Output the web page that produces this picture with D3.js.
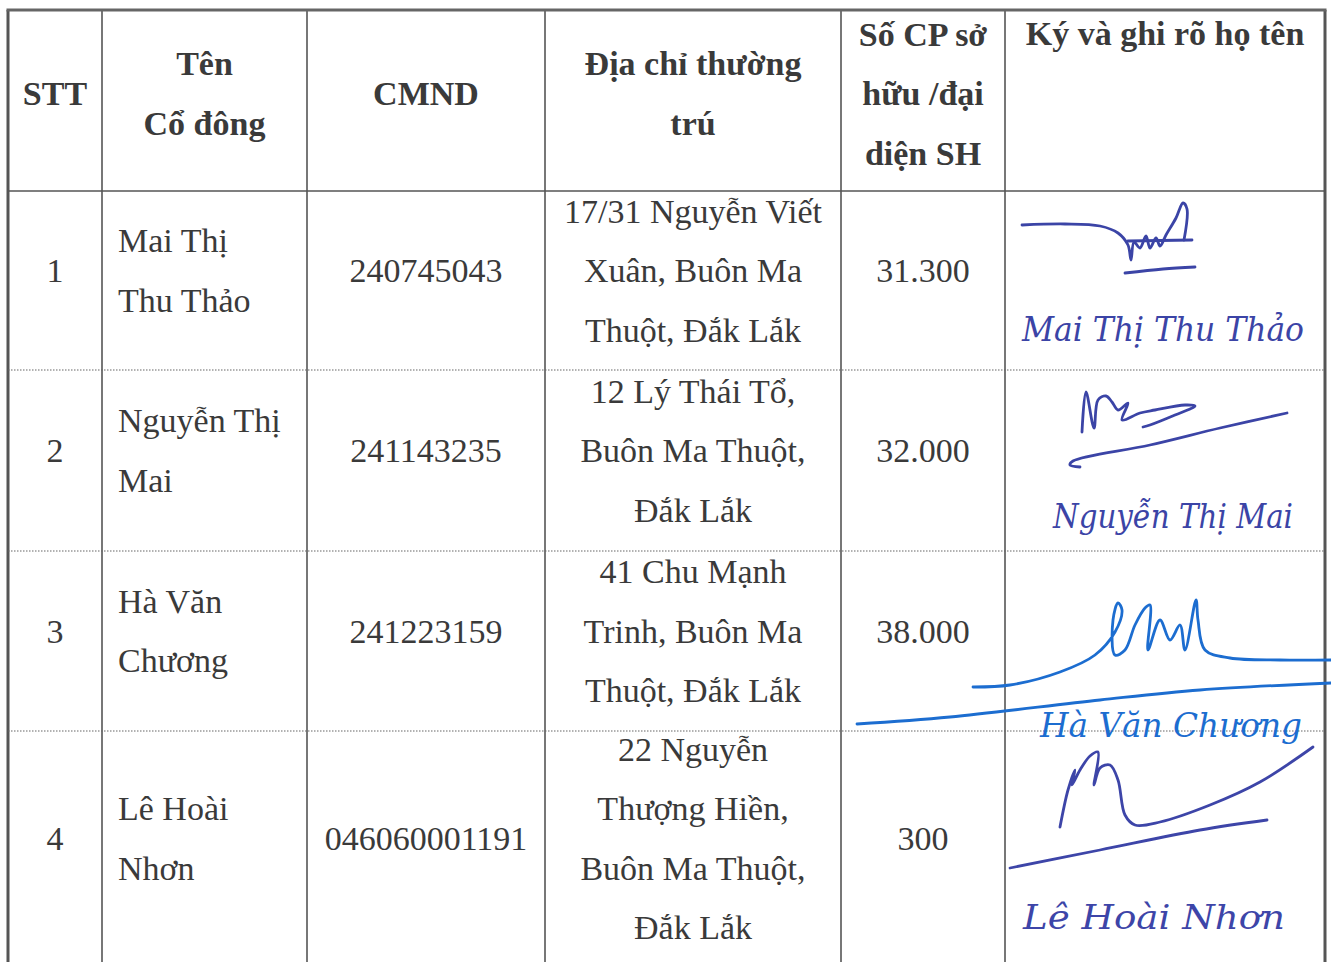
<!DOCTYPE html>
<html>
<head>
<meta charset="utf-8">
<script src="https://cdn.jsdelivr.net/npm/d3@7"></script>
<style>
  body { margin: 0; background: #fff; }
  svg { display: block; }
</style>
</head>
<body>
<div id="sheet"></div>
<script>
// table content
var headers = [
    ["STT"],
    ["Tên", "Cổ đông"],
    ["CMND"],
    ["Địa chỉ thường", "trú"],
    ["Số CP sở", "hữu /đại", "diện SH"],
    ["Ký và ghi rõ họ tên"]
];
var stt = ["1", "2", "3", "4"];
var shareholders = [
    ["Mai Thị", "Thu Thảo"],
    ["Nguyễn Thị", "Mai"],
    ["Hà Văn", "Chương"],
    ["Lê Hoài", "Nhơn"]
];
var idNumbers = ["240745043", "241143235", "241223159", "046060001191"];
var addresses = [
    ["17/31 Nguyễn Viết", "Xuân, Buôn Ma", "Thuột, Đắk Lắk"],
    ["12 Lý Thái Tổ,", "Buôn Ma Thuột,", "Đắk Lắk"],
    ["41 Chu Mạnh", "Trinh, Buôn Ma", "Thuột, Đắk Lắk"],
    ["22 Nguyễn", "Thượng Hiền,", "Buôn Ma Thuột,", "Đắk Lắk"]
];
var shares = [31300, 32000, 38000, 300];
var signedNames = ["Mai Thị Thu Thảo", "Nguyễn Thị Mai", "Hà Văn Chương", "Lê Hoài Nhơn"];

// layout
var W = 1331, H = 962;
var colEdges = [8, 102, 307, 545, 841, 1005, 1325];
var rowEdges = [10, 191, 370, 551, 731, 966];
var lineGap = 59.5;
var textColor = "#3a3a3a";
var vn = d3.formatLocale({decimal: ",", thousands: ".", grouping: [3], currency: ["", ""]});
var fmt = vn.format(",d");

var svg = d3.select("#sheet").append("svg")
    .attr("width", W)
    .attr("height", H);

var colMid = function (i) { return (colEdges[i] + colEdges[i + 1]) / 2; };
var rowMid = function (r) { return (rowEdges[r] + rowEdges[r + 1]) / 2 - (r > 0 ? 10 : 7); };

// grid
var grid = svg.append("g");
grid.selectAll("line.col")
    .data(colEdges)
    .enter().append("line")
    .attr("x1", function (d) { return d; })
    .attr("x2", function (d) { return d; })
    .attr("y1", rowEdges[0])
    .attr("y2", H + 5)
    .attr("stroke", "#555")
    .attr("stroke-width", function (d, i) { return (i == 0 || i == colEdges.length - 1) ? 3 : 1.6; });

grid.append("line")
    .attr("x1", colEdges[0] - 1.5).attr("x2", colEdges[6] + 1.5)
    .attr("y1", rowEdges[0]).attr("y2", rowEdges[0])
    .attr("stroke", "#666").attr("stroke-width", 3);
grid.append("line")
    .attr("x1", colEdges[0]).attr("x2", colEdges[6])
    .attr("y1", rowEdges[1]).attr("y2", rowEdges[1])
    .attr("stroke", "#555").attr("stroke-width", 1.6);
grid.selectAll("line.row")
    .data(rowEdges.slice(2, 5))
    .enter().append("line")
    .attr("x1", colEdges[0]).attr("x2", colEdges[6])
    .attr("y1", function (d) { return d; })
    .attr("y2", function (d) { return d; })
    .attr("stroke", "#666")
    .attr("stroke-width", 1.2)
    .attr("stroke-dasharray", "1.5,1.5");

// multi-line centred text helper
var lines = function (g, arr, x, cy, anchor, bold) {
    var top = cy - (arr.length - 1) * lineGap / 2;
    g.selectAll(null)
        .data(arr)
        .enter().append("text")
        .attr("x", x)
        .attr("y", function (d, i) { return top + i * lineGap + 11.5; })
        .attr("text-anchor", anchor)
        .attr("font-family", "'Liberation Serif', 'Times New Roman', serif")
        .attr("font-size", 34)
        .attr("font-weight", bold ? "bold" : "normal")
        .attr("fill", textColor)
        .text(function (d) { return d; });
};

var body = svg.append("g");
headers.forEach(function (h, i) {
    var cy = i == 5 ? 33 : rowMid(0);
    lines(body, h, colMid(i), cy, "middle", true);
});

stt.forEach(function (s, r) {
    var cy = rowMid(r + 1);
    lines(body, [s], colMid(0), cy, "middle");
    lines(body, shareholders[r], 118, cy, "start");
    lines(body, [idNumbers[r]], colMid(2), cy, "middle");
    lines(body, addresses[r], colMid(3), cy, "middle");
    lines(body, [fmt(shares[r])], colMid(4), cy, "middle");
});

// handwritten signatures (cell-local strokes)
var ink = ["#3b44a6", "#3b44a6", "#1c6dd0", "#3d45a8"];
var strokes = [
    [
        [[17,34],[60,33],[95,35],[113,42],[123,54],[126,69],[129,51],[135,57],[141,45],[145,57],[151,47],[155,55],[161,44],[171,27],[178,12],[182,18],[179,49]],
        [[123,50],[187,49]],
        [[120,82],[158,78],[190,76]]
    ],
    [
        [[77,62],[81,22],[89,58],[93,30],[101,26],[107,32],[113,40],[123,33],[117,50],[135,43],[150,40],[180,35],[190,36],[170,45],[145,55],[138,57]],
        [[75,97],[65,95],[68,91],[145,75],[215,58],[282,43]]
    ],
    [
        [[-32,136],[5,134],[55,121],[90,104],[110,81],[117,59],[113,52],[108,69],[110,104],[120,99],[130,74],[140,57],[145,54],[143,99],[155,69],[165,89],[175,74],[180,99],[191,49],[193,69],[200,99],[225,107],[275,109],[326,109]],
        [[-148,173],[-55,166],[95,149],[195,139],[326,132]]
    ],
    [
        [[55,96],[63,59],[70,39],[67,54],[75,39],[85,25],[93,21],[89,54],[95,37],[105,34],[113,49],[120,84],[130,94],[155,91],[205,74],[255,51],[308,16]],
        [[5,137],[95,119],[195,99],[262,89]]
    ]
];
var namePos = [[17, 150, 282], [48, 158, 240], [35, 186, 262], [18, 198, 262]];

var pen = d3.line().curve(d3.curveCatmullRom.alpha(0.5));
stt.forEach(function (s, r) {
    var cell = svg.append("g")
        .attr("transform", "translate(" + colEdges[5] + "," + rowEdges[r + 1] + ")");
    cell.selectAll("path")
        .data(strokes[r])
        .enter().append("path")
        .attr("d", pen)
        .attr("fill", "none")
        .attr("stroke", ink[r])
        .attr("stroke-width", 2.8)
        .attr("stroke-linecap", "round")
        .attr("stroke-linejoin", "round");
    cell.append("text")
        .attr("x", namePos[r][0])
        .attr("y", namePos[r][1])
        .attr("textLength", namePos[r][2])
        .attr("lengthAdjust", "spacingAndGlyphs")
        .attr("font-family", "'DejaVu Serif', serif")
        .attr("font-style", "italic")
        .attr("font-size", 33)
        .attr("fill", ink[r])
        .text(signedNames[r]);
});
</script>
</body>
</html>
